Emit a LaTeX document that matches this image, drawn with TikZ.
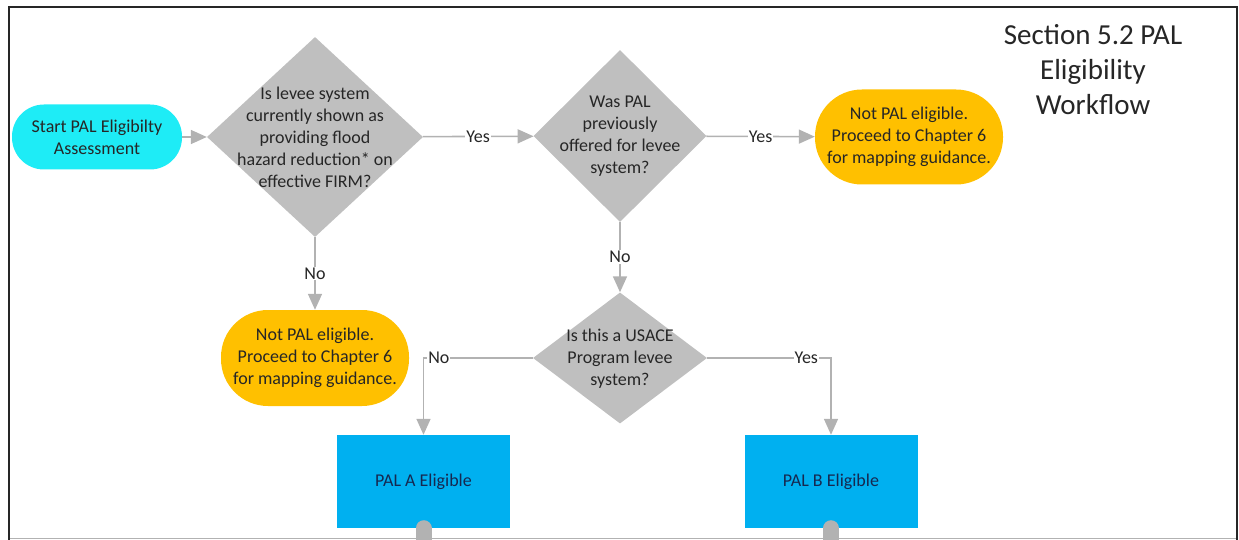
\documentclass[tikz,border=0pt]{standalone}
\usepackage{fontspec}
\setmainfont{Carlito}
\usetikzlibrary{arrows.meta, shapes.geometric}

\definecolor{startcyan}{RGB}{30,236,246}
\definecolor{diagray}{RGB}{191,191,191}
\definecolor{linegray}{RGB}{178,178,178}
\definecolor{notorange}{RGB}{255,192,0}
\definecolor{palblue}{RGB}{0,176,240}
\definecolor{inkdark}{RGB}{38,38,38}
\definecolor{inknavy}{RGB}{22,40,80}

\begin{document}
\begin{tikzpicture}[x=1pt, y=-1pt,
    every node/.style={font=\fontsize{18}{22}\selectfont, text=inkdark, align=center},
    flow/.style={draw=linegray, line width=1.6pt, -{Triangle[length=16pt, width=14pt]}},
    answer/.style={fill=white, inner sep=1pt, pos=0.5},
    decision/.style={diamond, fill=diagray, inner sep=0pt},
    qtext/.style={inner sep=0pt},
    terminal/.style={rectangle, rounded corners=#1, inner sep=0pt},
    result/.style={rectangle, fill=palblue, inner sep=0pt, text=inknavy,
        minimum width=173pt, minimum height=93pt},
    stub/.style={draw=linegray, line width=16pt, line cap=round}]

    \useasboundingbox (0,0) rectangle (1239,540);

    % Frame
    \draw[gray!60, line width=1pt] (9,538) -- (1237,538);
    \draw[inkdark, line width=2pt] (9,560) -- (9,7) -- (1237,7) -- (1237,560);

    % Title
    \node[font=\fontsize{29}{35}\selectfont] (title) at (1093,70) {Section 5.2 PAL\\Eligibility\\Workflow};

    % Start
    \node[terminal=32pt, fill=startcyan, minimum width=170pt, minimum height=65pt] (start) at (97,137)
        {Start PAL Eligibilty\\Assessment};

    % Decisions
    \node[decision, minimum width=216pt, minimum height=200pt] (q1) at (315,137) {};
    \node[qtext] at (q1) {Is levee system\\currently shown as\\providing flood\\hazard reduction* on\\effective FIRM?};

    \node[decision, minimum width=173pt, minimum height=172pt] (q2) at (620,136) {};
    \node[qtext] at (q2) {Was PAL\\previously\\offered for levee\\system?};

    \node[decision, minimum width=174pt, minimum height=131pt] (q3) at (620,358) {};
    \node[qtext] at ([yshift=-1pt]q3) {Is this a USACE\\Program levee\\system?};

    % Not eligible
    \node[terminal=47pt, fill=notorange, minimum width=188pt, minimum height=95pt] (notA) at (909,137)
        {Not PAL eligible.\\Proceed to Chapter 6\\for mapping guidance.};
    \node[terminal=47pt, fill=notorange, minimum width=188pt, minimum height=96pt] (notB) at (315,358)
        {Not PAL eligible.\\Proceed to Chapter 6\\for mapping guidance.};

    % Eligible
    \node[result] (palA) at (423.5,481.5) {PAL A Eligible};
    \node[result] (palB) at (831,481.5) {PAL B Eligible};

    % Connectors
    \draw[flow] (start) -- (q1);
    \draw[flow] (q1) -- node[answer] {Yes} (q2);
    \draw[flow] (q2) -- node[answer] {Yes} (notA);
    \draw[flow] (q1) -- node[answer] {No} (notB);
    \draw[flow] (q2) -- node[answer] {No} (q3);
    \draw[flow] (q3.west) -| node[answer, pos=0.43] {No} (palA.north);
    \draw[flow] (q3.east) -| node[answer, pos=0.4] {Yes} (palB.north);

    % Off-page links
    \path (palA.south) ++(0,30) coordinate (outA);
    \path (palB.south) ++(0,30) coordinate (outB);
    \draw[stub] (palA.south) -- (outA);
    \draw[stub] (palB.south) -- (outB);

\end{tikzpicture}
\end{document}
